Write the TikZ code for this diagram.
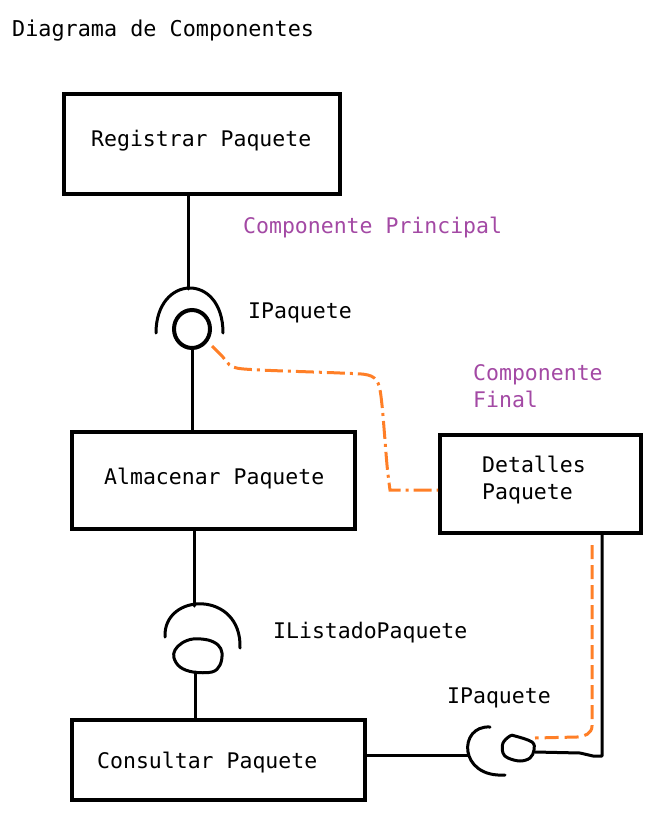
\documentclass[tikz,border=0pt]{standalone}
\usepackage{fontspec}
\setmonofont{DejaVu Sans Mono}
\usetikzlibrary{shapes.geometric}
\definecolor{umlorange}{HTML}{FF7F27}
\definecolor{umlpurple}{HTML}{A349A4}
\begin{document}
\begin{tikzpicture}[x=1pt,y=-1pt,
  box/.style={draw, line width=4pt, inner sep=0pt},
  lbl/.style={font=\fontsize{21.5}{27}\selectfont\ttfamily, anchor=base west, inner sep=0pt},
  note/.style={lbl, text=umlpurple},
  wire/.style={line width=3pt, line cap=round, line join=round},
  ballst/.style={draw, ellipse, line width=4pt, inner sep=0pt},
  realiz/.style={umlorange, line width=3pt, dash pattern=on 18pt off 5pt on 3pt off 5pt},
  dep/.style={umlorange, line width=3pt, dash pattern=on 14pt off 6pt},
]
\useasboundingbox (0,0) rectangle (659,813);

% title
\node[lbl, font=\fontsize{21.8}{26}\selectfont\ttfamily] (title) at (12,37) {Diagrama de Componentes};

% boxes
\node[box, minimum width=276pt, minimum height=100pt] (reg) at (202,144) {};
\node[box, minimum width=283pt, minimum height=97pt] (alm) at (213.5,480.5) {};
\node[box, minimum width=201pt, minimum height=98pt] (det) at (540.5,484) {};
\node[box, minimum width=293pt, minimum height=80pt] (cons) at (218.5,760) {};

% box texts
\node[lbl] (regtxt) at (91,147) {Registrar Paquete};
\node[lbl] (almtxt) at (104,484) {Almacenar Paquete};
\node[lbl] (dettxt1) at (482,472) {Detalles};
\node[lbl] (dettxt2) at (482,499) {Paquete};
\node[lbl] (constxt) at (97,768) {Consultar Paquete};

% labels
\node[note] (princ) at (243,233) {Componente Principal};
\node[note] (fin1) at (473,380) {Componente};
\node[note] (fin2) at (473,407) {Final};
\node[lbl] (ip1) at (248,318) {IPaquete};
\node[lbl] (ilist) at (273,638) {IListadoPaquete};
\node[lbl] (ip2) at (447,703) {IPaquete};

% interface 1 (socket + ball)
\coordinate (s1top) at (188,289);
\draw[wire] (156,333) .. controls (156,274) and (223,272) .. (223,333);
\draw[wire] (s1top |- reg.south) -- (s1top);
\node[ballst, minimum width=36pt, minimum height=38pt] (b1) at (192,329) {};
\draw[wire] (b1.south) -- (b1.south |- alm.north);

% interface 2
\coordinate (s2top) at (194,606);
\draw[wire] (165,637) .. controls (163,592) and (242,590) .. (240,648);
\draw[wire] (s2top |- alm.south) -- (s2top);
\draw[wire] plot[smooth cycle, tension=0.6] coordinates {(175,650) (182,643) (193,639) (208,640) (218,645) (222,653) (220,665) (212,672) (193,672) (180,667) (174,658)};
\coordinate (b2bot) at (195,672);
\draw[wire] (b2bot) -- (b2bot |- cons.north);

% interface 3
\coordinate (s3left) at (468,755);
\draw[wire] (490,727) .. controls (458,725) and (458,778) .. (505,775);
\draw[wire] (cons.east |- s3left) -- (s3left);
\draw[wire] plot[smooth cycle, tension=0.6] coordinates {(503,743) (510,736) (515,736) (532,742) (534,750) (530,758) (520,761) (508,758) (503,753)};
\coordinate (b3right) at (535,752);
\coordinate (corner) at (602,756);
\draw[wire] (b3right) -- (580,753) -- (593,756) -- (corner) -- (corner |- det.south);

% orange realization line
\draw[realiz] plot[smooth, tension=0.5] coordinates {(212,346) (222,356) (233,367) (260,370) (340,373) (368,375) (378,383) (382,405) (387,465) (390,490)} -- (det.west |- 0,490);

% orange dependency line
\coordinate (d2) at (592,545);
\draw[dep] (d2) -- (592,726) to[out=-90,in=0] (577,737) -- (535,738);
\end{tikzpicture}
\end{document}
